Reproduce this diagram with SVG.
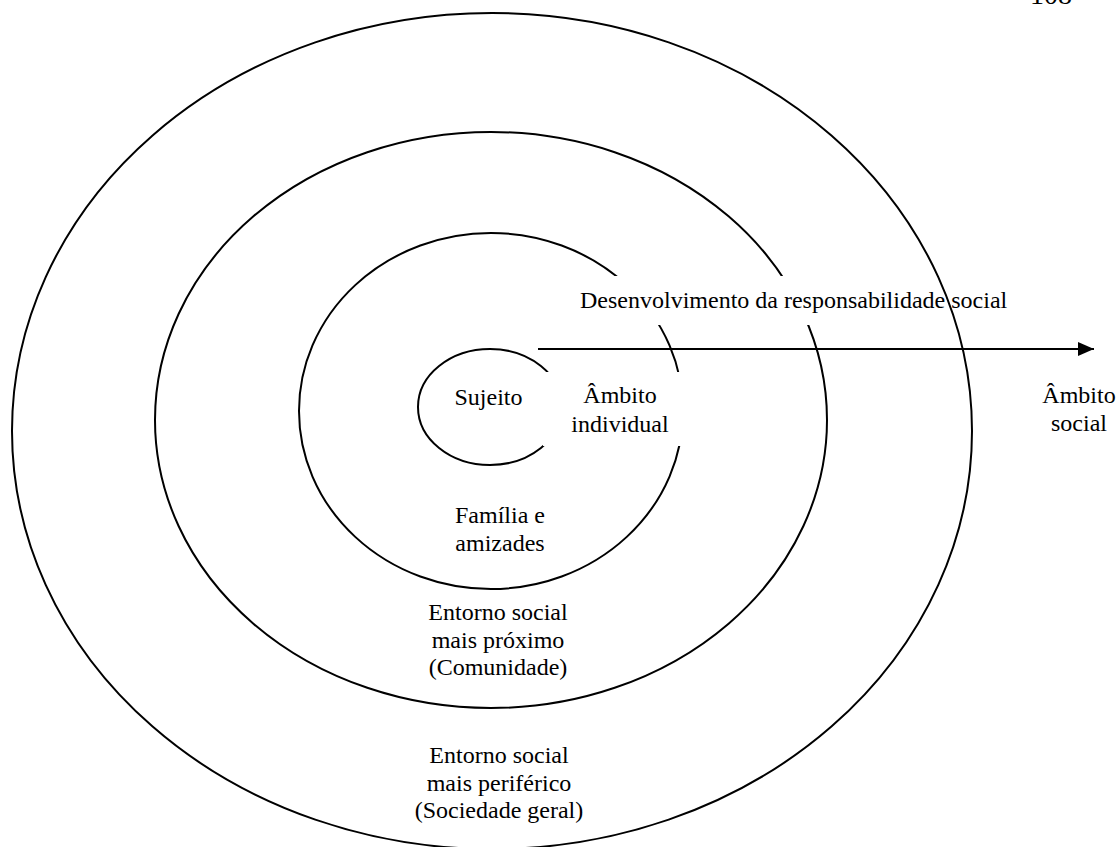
<svg xmlns="http://www.w3.org/2000/svg" width="1118" height="847" viewBox="0 0 1118 847">
  <defs>
    <style>
      .ring { fill: none; stroke: #000; stroke-width: 2; }
      .mask { fill: #fff; stroke: none; }
      .lbl { font-family: "Liberation Serif", "Times New Roman", serif; font-size: 24px; fill: #000; }
      .c { text-anchor: middle; }
      .conn { stroke: #000; stroke-width: 2; fill: none; }
    </style>
    <marker id="arrowhead" markerUnits="userSpaceOnUse" markerWidth="17" markerHeight="16" refX="16" refY="8" orient="auto">
      <polygon points="0,1 16,8 0,15" fill="#000"/>
    </marker>
  </defs>
  <rect x="0" y="0" width="1118" height="847" fill="#fff"/>

  <text class="lbl" x="1030" y="4" style="font-size:28px">108</text>

  <g id="sociedade">
    <ellipse class="ring" cx="492" cy="431" rx="480" ry="418"/>
    <text class="lbl c" x="499" y="763">Entorno social</text>
    <text class="lbl c" x="499" y="791">mais periférico</text>
    <text class="lbl c" x="499" y="818">(Sociedade geral)</text>
  </g>

  <g id="comunidade">
    <ellipse class="ring" cx="491" cy="420" rx="336" ry="288"/>
    <text class="lbl c" x="498" y="620">Entorno social</text>
    <text class="lbl c" x="498" y="648">mais próximo</text>
    <text class="lbl c" x="498" y="675">(Comunidade)</text>
  </g>

  <g id="familia">
    <ellipse class="ring" cx="491" cy="411" rx="192" ry="178"/>
    <text class="lbl c" x="500" y="523">Família e</text>
    <text class="lbl c" x="500" y="551">amizades</text>
  </g>

  <g id="sujeito">
    <ellipse class="ring" cx="490" cy="407" rx="72" ry="58"/>
    <text class="lbl c" x="488.5" y="405">Sujeito</text>
  </g>

  <g id="desenvolvimento">
    <rect class="mask" x="570" y="276" width="330" height="49"/>
    <text class="lbl" x="580" y="308">Desenvolvimento da responsabilidade social</text>
  </g>

  <g id="ambito-individual">
    <rect class="mask" x="543" y="372" width="147" height="74"/>
    <text class="lbl c" x="620" y="403">Âmbito</text>
    <text class="lbl c" x="620" y="432">individual</text>
  </g>

  <g id="ambito-social">
    <text class="lbl c" x="1079" y="403">Âmbito</text>
    <text class="lbl c" x="1079" y="431">social</text>
  </g>

  <g id="connectors">
    <line class="conn" x1="538" y1="349" x2="1094" y2="349" marker-end="url(#arrowhead)"/>
  </g>
</svg>
